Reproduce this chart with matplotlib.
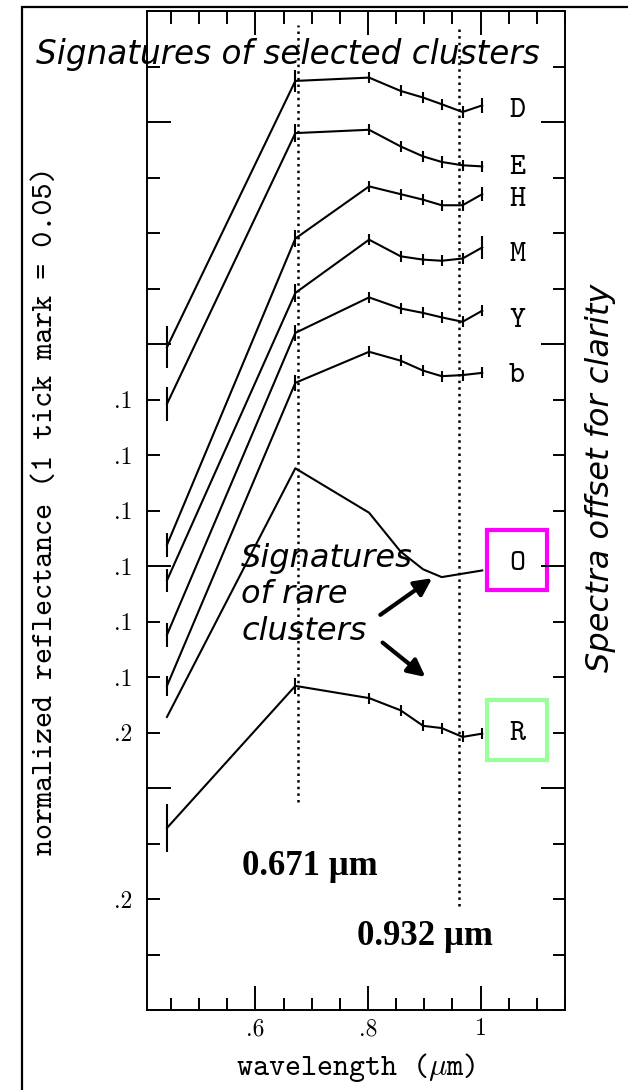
import matplotlib
matplotlib.use('Agg')
import matplotlib.pyplot as plt
import matplotlib.patches as patches
from matplotlib.ticker import FixedLocator, MultipleLocator

plt.rcParams['mathtext.fontset'] = 'cm'

# filter wavelengths (um)
wavelength = [0.443, 0.671, 0.802, 0.858, 0.898, 0.931, 0.968, 1.003]
wavelength_O = [0.443, 0.671, 0.802, 0.858, 0.898, 0.931, 1.003]

# offset reflectance of each cluster signature
refl_D = [0.597, 0.837, 0.840, 0.828, 0.822, 0.816, 0.809, 0.815]
refl_E = [0.546, 0.790, 0.793, 0.778, 0.769, 0.764, 0.761, 0.760]
refl_H = [0.419, 0.695, 0.742, 0.735, 0.730, 0.725, 0.725, 0.735]
refl_M = [0.387, 0.646, 0.694, 0.679, 0.676, 0.675, 0.677, 0.687]
refl_Y = [0.338, 0.610, 0.642, 0.632, 0.628, 0.624, 0.620, 0.630]
refl_b = [0.292, 0.565, 0.593, 0.585, 0.576, 0.571, 0.572, 0.574]
refl_O = [0.264, 0.488, 0.448, 0.413, 0.397, 0.390, 0.396]
refl_R = [0.164, 0.292, 0.281, 0.270, 0.256, 0.254, 0.246, 0.249]

err_D = [0.019, 0.010, 0.005, 0.005, 0.005, 0.005, 0.005, 0.007]
err_E = [0.015, 0.008, 0.005, 0.005, 0.005, 0.005, 0.005, 0.005]
err_H = [0.011, 0.008, 0.005, 0.005, 0.005, 0.005, 0.005, 0.006]
err_M = [0.010, 0.008, 0.005, 0.005, 0.005, 0.005, 0.005, 0.010]
err_Y = [0.011, 0.007, 0.005, 0.005, 0.005, 0.005, 0.005, 0.005]
err_b = [0.009, 0.007, 0.005, 0.005, 0.005, 0.005, 0.005, 0.005]
err_R = [0.022, 0.007, 0.005, 0.005, 0.005, 0.005, 0.005, 0.005]

# left axis labels (offset references)
ylabel_pos = [0.55, 0.50, 0.45, 0.40, 0.35, 0.30, 0.25, 0.10]
ylabel_txt = ['.1', '.1', '.1', '.1', '.1', '.1', '.2', '.2']

band_lines = [0.676, 0.961]
band_text = ['0.671 \u00b5m', '0.932 \u00b5m']

spectra = [
    ('D', wavelength, refl_D, err_D, None),
    ('E', wavelength, refl_E, err_E, None),
    ('H', wavelength, refl_H, err_H, None),
    ('M', wavelength, refl_M, err_M, None),
    ('Y', wavelength, refl_Y, err_Y, None),
    ('b', wavelength, refl_b, err_b, None),
    ('O', wavelength_O, refl_O, None, '#ff00ff'),
    ('R', wavelength, refl_R, err_R, '#99ff99'),
]
# small nudges so the letters sit where the original put them
label_dy = {'D': -0.005, 'E': -0.001, 'H': -0.005, 'M': -0.007, 'Y': -0.009,
            'b': -0.003, 'O': 0.006, 'R': 0.0}

W, H = 628, 1090
fig = plt.figure(figsize=(W / 100, H / 100), dpi=100)
ax = fig.add_axes([146.7 / W, 80 / H, 418.3 / W, 999 / H])
ax.set_xlim(0.407, 1.15)
ax.set_ylim(0, 0.9)

# outer frame
fig.patches.append(patches.Rectangle((22 / W, -0.1), 1.2, 1.1 - 7 / H, transform=fig.transFigure,
                                     fill=False, lw=1.6, edgecolor='black'))

lw = 1.5
for name, x, y, err, box in spectra:
    ax.plot(x, y, color='black', lw=lw)
    if err is not None:
        ax.errorbar(x, y, yerr=err, fmt='none', ecolor='black', elinewidth=lw, capsize=0)
    ly = y[-1] + label_dy[name]
    ax.text(1.065, ly, name, family='cmtt10', fontsize=22, ha='center', va='center')
    if box:
        ax.add_patch(patches.Rectangle((1.065 - 0.0533, ly + 0.003 - 0.027), 0.1067, 0.054,
                                       fill=False, edgecolor=box, lw=3, clip_on=False))

# band position guides
ax.plot([band_lines[0]] * 2, [0.187, 0.887], color='black', ls=':', lw=1.8)
ax.plot([band_lines[1]] * 2, [0.094, 0.887], color='black', ls=':', lw=1.8)
ax.text(0.576, 0.122, band_text[0], family='Liberation Serif', weight='bold', fontsize=25, va='baseline')
ax.text(0.781, 0.059, band_text[1], family='Liberation Serif', weight='bold', fontsize=25, va='baseline')

# rare clusters note
ax.text(0.575, 0.421, 'Signatures\nof rare\nclusters', style='italic', fontsize=23,
        family='DejaVu Sans', va='top', ha='left', linespacing=1.24)
arrow = dict(arrowstyle='-|>', lw=3, mutation_scale=26, color='black', shrinkA=0, shrinkB=0)
ax.annotate('', xy=(0.914, 0.389), xytext=(0.822, 0.356), arrowprops=arrow)
ax.annotate('', xy=(0.902, 0.300), xytext=(0.826, 0.331), arrowprops=arrow)

# axes styling
for s in ax.spines.values():
    s.set_linewidth(1.4)
ax.xaxis.set_major_locator(FixedLocator([0.6, 0.8, 1.0]))
ax.xaxis.set_minor_locator(MultipleLocator(0.05))
ax.set_xticklabels(['.6', '.8', '1'])
ax.yaxis.set_major_locator(FixedLocator([0.2, 0.4, 0.6, 0.8]))
ax.yaxis.set_minor_locator(MultipleLocator(0.05))
lab = dict(zip(ylabel_pos, ylabel_txt))
ax.set_yticklabels([lab.get(v, '') for v in [0.2, 0.4, 0.6, 0.8]])
minor_y = [round(0.05 * k, 2) for k in range(19)]
ax.set_yticks(minor_y, [lab.get(v, '') for v in minor_y], minor=True)
ax.tick_params(which='both', direction='in', top=True, right=True, width=1.4, pad=6)
ax.tick_params(which='major', length=17.5)
ax.tick_params(which='minor', length=9)
for t in ax.get_xticklabels() + ax.get_yticklabels() + ax.get_yticklabels(minor=True):
    t.set_family('cmr10')
    t.set_fontsize(17)
ax.tick_params(axis='y', which='both', pad=10)

ax.set_xlabel(r'wavelength ($\mu$m)', family='cmtt10', fontsize=22, va='baseline')
ax.xaxis.set_label_coords(0.5, -65 / 999)
ax.set_ylabel('normalized reflectance (1 tick mark = 0.05)', family='cmtt10', fontsize=22, va='center')
ax.yaxis.set_label_coords(-100.7 / 418.3, 0.5)

fig.text(36 / W, 1 - 64 / H, 'Signatures of selected clusters', style='italic', fontsize=23.5,
         family='DejaVu Sans', ha='left', va='baseline')
fig.text(600 / W, 1 - 478 / H, 'Spectra offset for clarity', style='italic', fontsize=23,
         family='DejaVu Sans', rotation=90, ha='center', va='center')

fig.savefig('out.png', dpi=100)
